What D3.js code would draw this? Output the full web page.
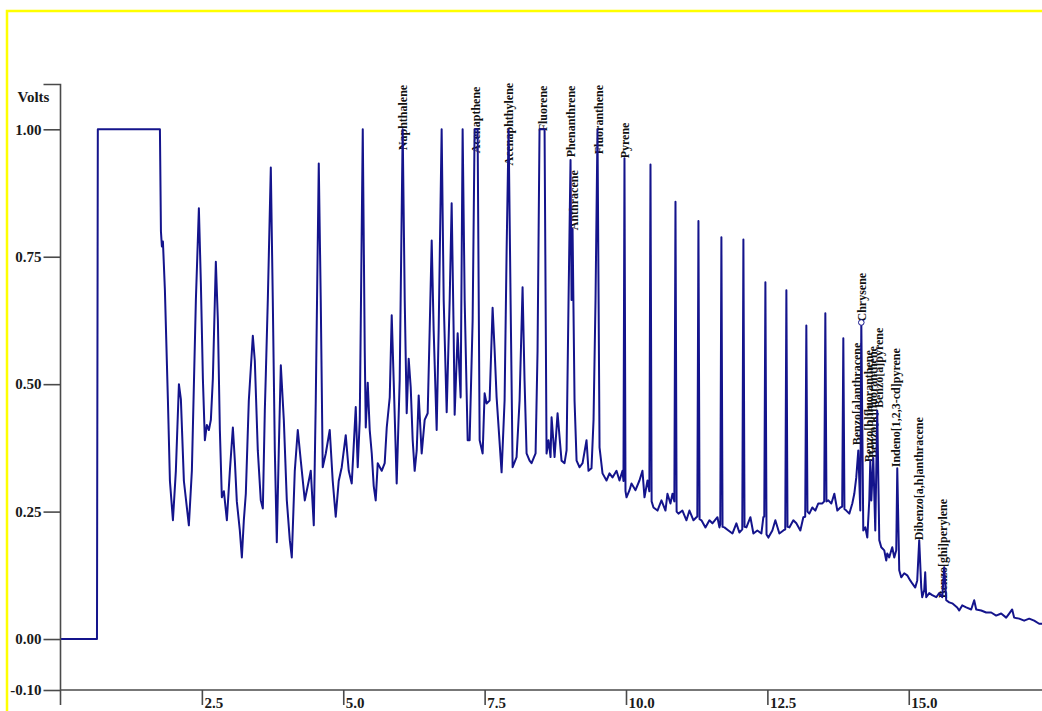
<!DOCTYPE html>
<html>
<head>
<meta charset="utf-8">
<script src="https://cdn.jsdelivr.net/npm/d3@7/dist/d3.min.js"></script>
<style>
  html, body { margin: 0; padding: 0; background: #ffffff; }
  svg { display: block; }
</style>
</head>
<body>
<svg id="chart" width="1042" height="711"></svg>
<script>
// ---------- DATA ----------
const retentionTime = [0.01,0.645,0.66,1.758,1.776,1.793,1.811,1.846,1.899,1.935,1.988,2.04,2.094,2.129,2.182,2.27,2.323,2.394,2.447,2.482,2.518,2.553,2.588,2.624,2.659,2.694,2.747,2.783,2.818,2.853,2.889,2.942,2.995,3.048,3.083,3.118,3.171,3.207,3.242,3.277,3.33,3.401,3.436,3.489,3.542,3.578,3.613,3.631,3.666,3.719,3.754,3.79,3.825,3.86,3.896,3.949,4.002,4.055,4.09,4.143,4.196,4.249,4.32,4.39,4.426,4.479,4.514,4.567,4.602,4.637,4.691,4.761,4.814,4.867,4.92,4.973,5.044,5.097,5.15,5.221,5.256,5.292,5.345,5.38,5.398,5.433,5.468,5.504,5.539,5.574,5.61,5.68,5.733,5.769,5.822,5.857,5.892,5.945,5.998,6.051,6.087,6.122,6.157,6.193,6.228,6.263,6.299,6.334,6.387,6.44,6.493,6.528,6.564,6.599,6.652,6.687,6.74,6.776,6.829,6.882,6.917,6.952,6.97,7.023,7.076,7.111,7.147,7.2,7.235,7.288,7.323,7.376,7.412,7.465,7.5,7.535,7.588,7.641,7.677,7.712,7.8,7.853,7.889,7.924,7.959,7.995,8.065,8.118,8.171,8.206,8.242,8.295,8.33,8.401,8.436,8.471,8.56,8.595,8.63,8.666,8.684,8.737,8.79,8.86,8.913,8.949,8.984,9.019,9.037,9.055,9.09,9.126,9.179,9.232,9.302,9.337,9.39,9.426,9.461,9.496,9.532,9.585,9.655,9.708,9.761,9.832,9.885,9.938,9.955,9.973,9.991,10.009,10.062,10.097,10.168,10.238,10.291,10.327,10.38,10.413,10.433,10.453,10.486,10.557,10.627,10.698,10.733,10.786,10.822,10.855,10.875,10.895,10.928,10.998,11.069,11.122,11.193,11.246,11.261,11.281,11.301,11.334,11.405,11.475,11.528,11.617,11.652,11.667,11.687,11.707,11.74,11.811,11.882,11.952,12.005,12.056,12.076,12.096,12.129,12.2,12.253,12.323,12.394,12.429,12.445,12.465,12.485,12.518,12.588,12.641,12.712,12.783,12.816,12.836,12.856,12.889,12.959,13.012,13.083,13.136,13.169,13.189,13.209,13.242,13.295,13.348,13.401,13.472,13.505,13.525,13.545,13.578,13.631,13.684,13.737,13.79,13.823,13.843,13.863,13.896,13.949,14.002,14.037,14.072,14.108,14.143,14.161,14.196,14.232,14.267,14.302,14.32,14.338,14.373,14.408,14.443,14.479,14.514,14.567,14.602,14.62,14.655,14.691,14.708,14.744,14.779,14.797,14.832,14.867,14.92,14.973,15.026,15.062,15.115,15.15,15.185,15.221,15.238,15.274,15.291,15.309,15.362,15.415,15.486,15.539,15.592,15.627,15.663,15.716,15.769,15.857,15.892,15.945,16.016,16.104,16.157,16.193,16.281,16.369,16.458,16.546,16.634,16.723,16.776,16.829,16.864,16.953,17.041,17.13,17.218,17.306,17.4];

const signalVolts = [0,0,1.0,1.0,0.80,0.77,0.78,0.685,0.47,0.31,0.233,0.33,0.50,0.47,0.31,0.223,0.33,0.665,0.845,0.70,0.51,0.39,0.42,0.41,0.43,0.51,0.74,0.625,0.41,0.278,0.29,0.233,0.33,0.415,0.35,0.27,0.213,0.16,0.233,0.285,0.468,0.595,0.546,0.37,0.272,0.256,0.448,0.52,0.665,0.925,0.665,0.37,0.19,0.37,0.537,0.43,0.272,0.194,0.16,0.33,0.41,0.35,0.272,0.31,0.33,0.223,0.468,0.933,0.665,0.337,0.364,0.41,0.31,0.24,0.31,0.337,0.40,0.33,0.305,0.455,0.337,0.43,1.0,0.566,0.415,0.503,0.41,0.364,0.30,0.272,0.345,0.33,0.345,0.415,0.474,0.635,0.507,0.305,0.507,1.0,0.665,0.443,0.55,0.494,0.39,0.33,0.37,0.478,0.364,0.43,0.443,0.605,0.782,0.605,0.41,0.605,1.0,0.665,0.445,0.665,0.855,0.605,0.44,0.60,0.474,1.0,0.665,0.39,0.39,0.625,1.0,1.0,0.39,0.364,0.482,0.462,0.468,0.65,0.566,0.474,0.327,0.468,0.763,1.0,0.665,0.337,0.357,0.468,0.69,0.507,0.364,0.35,0.345,0.364,0.566,1.0,1.0,0.364,0.39,0.357,0.435,0.357,0.443,0.35,0.345,0.37,0.665,0.94,0.665,0.805,0.468,0.35,0.337,0.345,0.39,0.33,0.335,0.43,0.665,1.0,0.376,0.325,0.311,0.325,0.317,0.33,0.311,0.33,0.31,0.943,0.29,0.278,0.292,0.305,0.292,0.311,0.33,0.278,0.311,0.29,0.931,0.27,0.258,0.252,0.272,0.252,0.285,0.266,0.285,0.27,0.858,0.25,0.246,0.252,0.233,0.252,0.233,0.239,0.24,0.82,0.235,0.233,0.219,0.233,0.227,0.239,0.219,0.225,0.788,0.22,0.219,0.213,0.207,0.227,0.209,0.215,0.784,0.22,0.219,0.239,0.207,0.213,0.207,0.239,0.24,0.70,0.205,0.199,0.213,0.233,0.207,0.213,0.215,0.684,0.22,0.219,0.233,0.227,0.213,0.239,0.24,0.615,0.25,0.246,0.258,0.252,0.266,0.266,0.27,0.639,0.27,0.272,0.266,0.285,0.252,0.258,0.26,0.59,0.255,0.252,0.246,0.266,0.285,0.317,0.37,0.252,0.621,0.213,0.219,0.199,0.272,0.35,0.272,0.355,0.213,0.448,0.194,0.18,0.174,0.154,0.168,0.16,0.174,0.18,0.16,0.174,0.335,0.135,0.121,0.129,0.125,0.115,0.109,0.101,0.115,0.194,0.101,0.082,0.096,0.131,0.082,0.09,0.086,0.082,0.09,0.082,0.141,0.076,0.072,0.07,0.062,0.056,0.066,0.062,0.058,0.076,0.058,0.056,0.052,0.052,0.046,0.05,0.042,0.05,0.058,0.042,0.04,0.036,0.04,0.036,0.03,0.03];

const peakNames = ["Naphthalene","Acenapthene","Acenaphthylene","Fluorene","Phenanthrene","Anthracene","Fluoranthene","Pyrene","Benzo[a]anthracene","Chrysene","Benzo[b]fluoranthene","Benzo[k]fluoranthene","Benzo[a]pyrene","Indeno[1,2,3-cd]pyrene","Dibenzo[a,h]anthracene","Benzo[ghi]perylene"];
const peakTimes = [6.051,7.341,7.924,8.525,9.019,9.075,9.514,9.973,14.09,14.178,14.302,14.373,14.479,14.779,15.185,15.61];
const peakLabelVolts = [0.959,0.953,0.929,0.996,0.945,0.802,0.951,0.943,0.38,0.623,0.347,0.355,0.453,0.337,0.194,0.08];

const xTickValues = [2.5,5.0,7.5,10.0,12.5,15.0];
const yTickValues = [-0.10,0.00,0.25,0.50,0.75,1.00];
const yAxisTitle = "Volts";
const markerTime = 14.161, markerVolts = 0.621;

// ---------- DRAWING ----------
const svg = d3.select("#chart");
const W = 1042, H = 711;

// yellow frame
svg.append("rect").attr("x", 7).attr("y", 11).attr("width", W + 20).attr("height", H + 20)
  .attr("fill", "none").attr("stroke", "#ffff00").attr("stroke-width", 2.5);

const x = d3.scaleLinear().domain([0, 17.35]).range([60.5, 60.5 + 17.35 * 56.55]);
const y = d3.scaleLinear().domain([-0.1, 1.0]).range([690, 129.3]);

const axisColor = "#4a4a4a";
const fontFam = "'Liberation Serif', 'Times New Roman', serif";
const fmtY = v => d3.format(".2f")(v).replace("\u2212", "-");

// Y axis
const yAxis = d3.axisLeft(y).tickValues(yTickValues).tickSize(17).tickSizeOuter(0)
  .tickPadding(2).tickFormat(fmtY);
const gy = svg.append("g").attr("transform", `translate(${x(0)},0)`).call(yAxis);
gy.select(".domain").remove();
gy.selectAll(".tick line").attr("stroke", axisColor).attr("stroke-width", 1.6);
gy.selectAll(".tick text").attr("fill", "#1a1a1a").style("font-family", fontFam)
  .style("font-size", "15px").style("font-weight", "bold");
// Y axis spine with top stub
const yTop = y(1.088);
gy.append("path").attr("d", `M-17,${yTop}H0V705`).attr("fill", "none")
  .attr("stroke", axisColor).attr("stroke-width", 1.6);
gy.append("text").attr("x", -43).attr("y", yTop + 18).text(yAxisTitle)
  .attr("fill", "#1a1a1a").style("font-family", fontFam).style("font-size", "15px")
  .style("font-weight", "bold").attr("text-anchor", "start");

// X axis
const xAxis = d3.axisBottom(x).tickValues(xTickValues).tickSize(15).tickSizeOuter(0)
  .tickFormat(d3.format(".1f"));
const gx = svg.append("g").attr("transform", `translate(0,${y(-0.1)})`).call(xAxis);
gx.select(".domain").remove();
gx.append("path").attr("d", `M${x(0)},0H${W + 5}`).attr("stroke", axisColor).attr("stroke-width", 1.6);
gx.selectAll(".tick line").attr("stroke", axisColor).attr("stroke-width", 1.6);
gx.selectAll(".tick text").attr("x", 2).attr("y", 18).attr("dy", 0)
  .style("text-anchor", "start").attr("fill", "#1a1a1a").style("font-family", fontFam)
  .style("font-size", "15px").style("font-weight", "bold");

// peak labels
const peaks = peakNames.map((n, i) => ({ name: n, t: peakTimes[i], v: peakLabelVolts[i] }));
svg.append("g").selectAll("text").data(peaks).join("text")
  .attr("transform", d => `translate(${x(d.t)},${y(d.v)}) rotate(-90)`)
  .attr("dy", "0.35em").attr("text-anchor", "start")
  .style("font-family", fontFam).style("font-size", "12px").style("font-weight", "bold")
  .attr("fill", "#111")
  .text(d => d.name);

// trace
const pts = retentionTime.map((t, i) => [t, signalVolts[i]]);
const line = d3.line().x(d => x(d[0])).y(d => y(d[1]));
svg.append("path").datum(pts).attr("d", line).attr("fill", "none")
  .attr("stroke", "#14148c").attr("stroke-width", 2).attr("stroke-linejoin", "round");

// marker at Chrysene apex
svg.append("circle").attr("cx", x(markerTime)).attr("cy", y(markerVolts)).attr("r", 2.8)
  .attr("fill", "#ffffff").attr("stroke", "#14148c").attr("stroke-width", 1);
</script>
</body>
</html>
